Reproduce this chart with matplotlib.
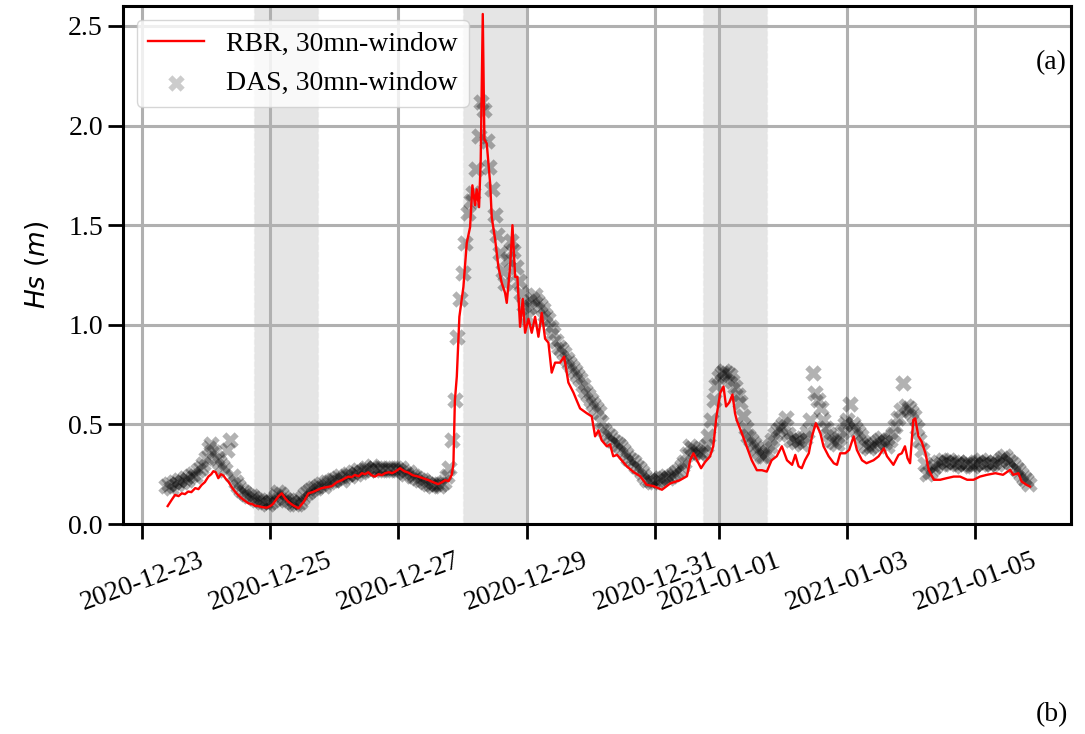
import numpy as np
import pandas as pd
import matplotlib
matplotlib.use("Agg")
import matplotlib.pyplot as plt
import matplotlib.dates as mdates

plt.rcParams['font.family'] = 'serif'
plt.rcParams['font.serif'] = ['Liberation Serif', 'DejaVu Serif']
plt.rcParams['mathtext.fontset'] = 'dejavusans'

# ---- data ----
t0 = pd.Timestamp("2020-12-23 00:00")

# RBR pressure sensor, 30mn window: time in days after 2020-12-23 00:00
rbr_day = [0.40, 0.46, 0.515, 0.57, 0.62, 0.67, 0.72, 0.77, 0.83, 0.88, 0.93, 0.98,
           1.035, 1.08, 1.113, 1.15, 1.19, 1.23, 1.27, 1.31, 1.347, 1.40, 1.45, 1.50,
           1.555, 1.61, 1.66, 1.72, 1.76, 1.81, 1.87, 1.945, 2.00, 2.04, 2.075, 2.13,
           2.18, 2.23, 2.28, 2.35, 2.44, 2.52, 2.595, 2.66, 2.73, 2.80, 2.88, 2.96,
           3.04, 3.115, 3.17, 3.22, 3.27, 3.32, 3.38, 3.43, 3.48, 3.53, 3.58, 3.635,
           3.69, 3.74, 3.79, 3.85, 3.90, 3.95, 4.025, 4.09, 4.155, 4.22, 4.31, 4.38,
           4.47, 4.54, 4.62, 4.68, 4.73, 4.78, 4.83, 4.857, 4.88, 4.91, 4.95, 5.013,
           5.065, 5.117, 5.153, 5.195, 5.22, 5.257, 5.283, 5.315, 5.34, 5.377, 5.43, 5.455,
           5.507, 5.559, 5.611, 5.663, 5.689, 5.741, 5.778, 5.82, 5.855, 5.897, 5.939, 5.975,
           6.027, 6.079, 6.131, 6.183, 6.235, 6.287, 6.339, 6.39, 6.443, 6.521, 6.584, 6.65,
           6.729, 6.78, 6.833, 6.937, 7.015, 7.067, 7.12, 7.17, 7.25, 7.30, 7.35, 7.41,
           7.48, 7.56, 7.67, 7.77, 7.87, 7.98, 8.11, 8.24, 8.39, 8.50, 8.55, 8.60,
           8.68, 8.72, 8.78, 8.86, 8.91, 8.96, 9.02, 9.07, 9.11, 9.16, 9.21, 9.25,
           9.277, 9.355, 9.43, 9.51, 9.59, 9.67, 9.745, 9.82, 9.90, 9.98, 10.06, 10.14,
           10.19, 10.24, 10.29, 10.34, 10.40, 10.45, 10.51, 10.58, 10.63, 10.71, 10.79, 10.84,
           10.89, 10.97, 11.03, 11.10, 11.15, 11.23, 11.30, 11.41, 11.49, 11.57, 11.62, 11.72,
           11.80, 11.85, 11.90, 11.94, 11.98, 12.03, 12.06, 12.11, 12.16, 12.22, 12.27, 12.35,
           12.45, 12.55, 12.66, 12.76, 12.87, 12.97, 13.07, 13.18, 13.31, 13.43, 13.54, 13.59,
           13.67, 13.72, 13.80, 13.85]
rbr_hs = [0.09, 0.12, 0.146, 0.14, 0.154, 0.15, 0.163, 0.16, 0.18, 0.175, 0.196, 0.21,
          0.238, 0.25, 0.265, 0.26, 0.23, 0.25, 0.243, 0.225, 0.213, 0.185, 0.163, 0.145,
          0.129, 0.115, 0.104, 0.10, 0.092, 0.09, 0.085, 0.082, 0.09, 0.10, 0.115, 0.14,
          0.154, 0.13, 0.112, 0.095, 0.079, 0.11, 0.154, 0.16, 0.17, 0.18, 0.185, 0.19,
          0.21, 0.22, 0.23, 0.238, 0.235, 0.246, 0.24, 0.255, 0.25, 0.26, 0.245, 0.238,
          0.25, 0.245, 0.255, 0.26, 0.255, 0.263, 0.28, 0.265, 0.258, 0.245, 0.238, 0.23,
          0.22, 0.21, 0.20, 0.21, 0.22, 0.215, 0.246, 0.30, 0.62, 0.74, 1.04, 1.19,
          1.41, 1.49, 1.70, 1.60, 1.68, 1.59, 1.83, 2.56, 1.93, 1.91, 1.71, 1.54,
          1.43, 1.29, 1.21, 1.16, 1.11, 1.29, 1.50, 1.24, 1.24, 0.99, 1.13, 0.96,
          1.03, 0.96, 1.04, 0.94, 1.06, 0.93, 0.91, 0.76, 0.81, 0.81, 0.84, 0.71,
          0.66, 0.62, 0.58, 0.556, 0.54, 0.44, 0.47, 0.42, 0.39, 0.40, 0.34, 0.347,
          0.32, 0.29, 0.26, 0.24, 0.197, 0.19, 0.172, 0.204, 0.22, 0.24, 0.32, 0.355,
          0.305, 0.28, 0.31, 0.34, 0.39, 0.54, 0.66, 0.69, 0.59, 0.61, 0.65, 0.555,
          0.52, 0.456, 0.39, 0.32, 0.27, 0.27, 0.263, 0.32, 0.34, 0.39, 0.32, 0.297,
          0.347, 0.29, 0.28, 0.32, 0.355, 0.44, 0.506, 0.456, 0.39, 0.34, 0.305, 0.297,
          0.355, 0.355, 0.372, 0.44, 0.372, 0.32, 0.305, 0.32, 0.34, 0.38, 0.34, 0.297,
          0.347, 0.355, 0.39, 0.33, 0.305, 0.523, 0.53, 0.44, 0.414, 0.355, 0.272, 0.222,
          0.222, 0.23, 0.238, 0.238, 0.222, 0.222, 0.238, 0.247, 0.255, 0.247, 0.272, 0.247,
          0.255, 0.213, 0.196, 0.188]

# DAS estimate, 30mn window, one value per hour from 2020-12-23 09:00
das_start = "2020-12-23 09:00"
das_hs = [
    0.19, 0.20, 0.18, 0.21, 0.20, 0.22, 0.21, 0.23, 0.22, 0.24, 0.25, 0.24, 0.27, 0.28, 0.30,
    0.33, 0.38, 0.40, 0.36, 0.33, 0.31, 0.29, 0.27, 0.37, 0.42, 0.24, 0.21, 0.19, 0.17, 0.16, 0.15,
    0.14, 0.14, 0.13, 0.12, 0.12, 0.11, 0.11, 0.10,
    0.11, 0.12, 0.14, 0.16, 0.15, 0.13, 0.12, 0.12, 0.11, 0.10, 0.10, 0.11, 0.13, 0.15, 0.16, 0.17,
    0.18, 0.18, 0.19, 0.20, 0.19, 0.21, 0.21, 0.22,
    0.22, 0.23, 0.24, 0.22, 0.24, 0.25, 0.24, 0.26, 0.25, 0.27, 0.26, 0.27, 0.28, 0.27, 0.29, 0.28,
    0.27, 0.28, 0.27, 0.28, 0.27, 0.28, 0.27, 0.28,
    0.27, 0.28, 0.26, 0.25, 0.26, 0.24, 0.24, 0.23, 0.22, 0.22, 0.21, 0.20, 0.20, 0.19, 0.20, 0.19,
    0.20, 0.21, 0.24, 0.28, 0.42, 0.62, 0.94, 1.13,
    1.26, 1.41, 1.56, 1.62, 1.66, 1.78, 1.95, 2.12, 2.08, 1.92, 1.79, 1.68, 1.55, 1.45, 1.36, 1.27,
    1.21, 1.33, 1.42, 1.37, 1.29, 1.22, 1.16, 1.10,
    1.04, 1.09, 1.13, 1.15, 1.12, 1.10, 1.08, 1.05, 1.03, 0.99, 0.96, 0.92, 0.89, 0.88, 0.86, 0.83,
    0.81, 0.79, 0.77, 0.75, 0.73, 0.70, 0.67, 0.65,
    0.62, 0.60, 0.58, 0.56, 0.51, 0.47, 0.45, 0.44, 0.42, 0.41, 0.40, 0.39, 0.37, 0.35, 0.33, 0.32,
    0.31, 0.29, 0.28, 0.26, 0.24, 0.22, 0.22, 0.21,
    0.21, 0.22, 0.23, 0.23, 0.24, 0.23, 0.24, 0.25, 0.26, 0.27, 0.29, 0.31, 0.35, 0.39, 0.38, 0.37,
    0.36, 0.35, 0.36, 0.39, 0.44, 0.52, 0.62, 0.70,
    0.74, 0.76, 0.77, 0.76, 0.75, 0.72, 0.69, 0.65, 0.61, 0.54, 0.48, 0.44, 0.42, 0.40, 0.38, 0.36,
    0.34, 0.34, 0.36, 0.39, 0.42, 0.45, 0.47, 0.48,
    0.50, 0.53, 0.45, 0.42, 0.43, 0.41, 0.42, 0.40, 0.43, 0.46, 0.52, 0.76, 0.66, 0.62, 0.58, 0.52,
    0.48, 0.45, 0.42, 0.41, 0.40, 0.43, 0.46, 0.50,
    0.52, 0.60, 0.50, 0.48, 0.46, 0.44, 0.41, 0.39, 0.38, 0.39, 0.40, 0.41, 0.42, 0.43, 0.41, 0.39,
    0.42, 0.45, 0.49, 0.53, 0.57, 0.71, 0.59, 0.58,
    0.56, 0.54, 0.48, 0.42, 0.37, 0.30, 0.25, 0.26, 0.28, 0.29, 0.31, 0.30, 0.32, 0.31, 0.32, 0.30,
    0.31, 0.30, 0.31, 0.29, 0.30, 0.31, 0.30, 0.29,
    0.30, 0.31, 0.32, 0.30, 0.31, 0.30, 0.30, 0.31, 0.30, 0.32, 0.33, 0.34, 0.32, 0.31, 0.30, 0.28,
    0.27, 0.25, 0.23, 0.22, 0.20,
]

# shaded periods
span_start = ["2020-12-24 18:00", "2020-12-28 00:00", "2020-12-31 18:00"]
span_end = ["2020-12-25 18:00", "2020-12-29 00:00", "2021-01-01 18:00"]

rbr_time = t0 + pd.to_timedelta(rbr_day, unit="D")
das_time = pd.date_range(das_start, periods=len(das_hs), freq="h")

# ---- figure ----
fig = plt.figure(figsize=(10.85, 7.34), dpi=100)
ax = fig.add_axes([0.1134, 0.2861, 0.8737, 0.7057])

for s, e in zip(span_start, span_end):
    ax.axvspan(pd.Timestamp(s), pd.Timestamp(e), facecolor="gray", alpha=0.2,
               edgecolor="#d0d0d0", linestyle="--", linewidth=1, zorder=0)

ax.plot(rbr_time, rbr_hs, color="red", lw=1.7, label="RBR, 30mn-window", zorder=3)
ax.scatter(das_time, das_hs, marker="X", s=140, color="k", alpha=0.3, linewidths=0,
           label="DAS, 30mn-window", zorder=2)

ax.grid(True, color="#b0b0b0", linewidth=2.2, zorder=1)
ax.set_axisbelow(True)

ax.xaxis.set_major_locator(mdates.DayLocator(bymonthday=range(1, 32, 2)))
ax.xaxis.set_major_formatter(mdates.DateFormatter("%Y-%m-%d"))
ax.set_xlim(t0 - pd.Timedelta(days=0.296), t0 + pd.Timedelta(days=14.49))
ax.set_ylim(0, 2.6)
ax.set_yticks([0, 0.5, 1.0, 1.5, 2.0, 2.5])
ax.yaxis.set_major_formatter(matplotlib.ticker.FormatStrFormatter("%.1f"))

ax.tick_params(axis="both", labelsize=20, length=11, width=2)
ax.tick_params(axis="x", pad=6)
for lab in ax.get_xticklabels():
    lab.set_rotation(20)
    lab.set_ha("center")
for sp in ax.spines.values():
    sp.set_linewidth(2.2)

ax.set_ylabel(r"$Hs\ (m)$", fontsize=19, labelpad=12)

leg = ax.legend(loc="upper left", fontsize=20, framealpha=0.8)
leg.legend_handles[1].set_alpha(0.2)
ax.text(0.995, 0.89, "(a)", transform=ax.transAxes, ha="right", va="center", fontsize=20)
fig.text(0.984, 0.026, "(b)", ha="right", va="center", fontsize=20)

fig.savefig("out.png", dpi=100)
